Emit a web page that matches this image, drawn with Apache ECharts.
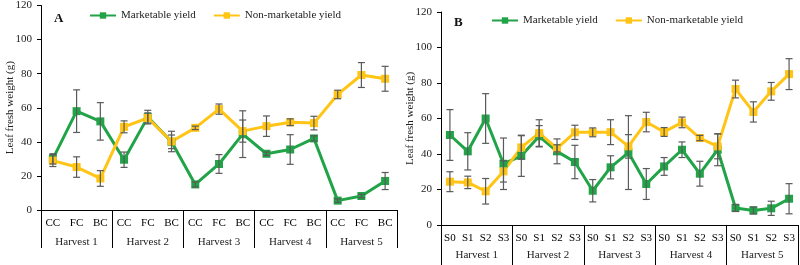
<!DOCTYPE html>
<html>
<head>
<meta charset="utf-8">
<script src="https://cdn.jsdelivr.net/npm/echarts@6/dist/echarts.min.js"></script>
<style>
  html, body { margin: 0; padding: 0; background: #fff; }
  #main { width: 800px; height: 265px; }
</style>
</head>
<body>
<div id="main"></div>
<script>
var harvests = ['Harvest 1', 'Harvest 2', 'Harvest 3', 'Harvest 4', 'Harvest 5'];
var subA = ['CC', 'FC', 'BC', 'CC', 'FC', 'BC', 'CC', 'FC', 'BC', 'CC', 'FC', 'BC', 'CC', 'FC', 'BC'];
var subB = ['S0', 'S1', 'S2', 'S3', 'S0', 'S1', 'S2', 'S3', 'S0', 'S1', 'S2', 'S3', 'S0', 'S1', 'S2', 'S3', 'S0', 'S1', 'S2', 'S3'];

// panel A
var mktA = [30, 58, 52, 29.5, 54.5, 40, 15, 27, 44.5, 33, 35.5, 42, 5.5, 8.2, 17];
var mktErrA = [3, 12.5, 11, 4.5, 4, 4, 1.5, 5.5, 13.7, 1, 8.7, 1.5, 1, 1, 5];
var nonA = [29, 25.2, 18.5, 48.8, 54, 40.2, 48.2, 59.2, 46.3, 49.2, 51.5, 51, 67.8, 79.2, 77];
var nonErrA = [3.5, 6, 4.6, 3.5, 3, 6, 1, 3, 6.5, 6, 2, 4, 2.5, 7.3, 7.3];

// panel B
var mktB = [50.7, 41.5, 60, 34.5, 39, 50, 41.5, 35.5, 19.3, 32.5, 40.8, 23.1, 33, 42.4, 28.9, 42.4, 9.6, 8.2, 9.4, 14.8];
var mktErrB = [14.3, 10.5, 14, 14.5, 11.6, 6, 7, 9.4, 6.3, 6.5, 20.8, 8.7, 5, 4.4, 7, 9, 2, 2, 4, 8.5];
var nonB = [24.4, 24, 19, 30.2, 43.7, 51.8, 43.2, 52.2, 52.2, 52.3, 44.3, 58, 52.4, 57.8, 49, 44.3, 76.6, 63.7, 75.3, 85];
var nonErrB = [5.6, 3.5, 7.2, 6, 6.6, 7.5, 2, 4, 2.5, 7, 6.6, 5.5, 2.5, 3, 1.5, 7, 5, 5.7, 5, 8.7];

var yTicks = [0, 20, 40, 60, 80, 100, 120];

var green = '#21a348';
var yellow = '#ffc414';
var font = 'Liberation Serif';

var myChart = echarts.init(document.getElementById('main'));

// [index, low, high]
function errData(vals, errs) {
  var out = [];
  for (var i = 0; i < vals.length; i++) {
    out.push([i, vals[i] - errs[i], vals[i] + errs[i]]);
  }
  return out;
}

function renderErr(params, api) {
  var lo = api.coord([api.value(0), api.value(1)]);
  var hi = api.coord([api.value(0), api.value(2)]);
  var style = { stroke: '#5a5a5a', lineWidth: 1.2 };
  return {
    type: 'group',
    children: [
      { type: 'line', shape: { x1: lo[0], y1: lo[1], x2: hi[0], y2: hi[1] }, style: style },
      { type: 'line', shape: { x1: lo[0] - 3.5, y1: lo[1], x2: lo[0] + 3.5, y2: lo[1] }, style: style },
      { type: 'line', shape: { x1: hi[0] - 3.5, y1: hi[1], x2: hi[0] + 3.5, y2: hi[1] }, style: style }
    ]
  };
}

function yAxisFor(idx) {
  return {
    gridIndex: idx,
    type: 'value',
    min: yTicks[0],
    max: yTicks[yTicks.length - 1],
    interval: 20,
    name: 'Leaf fresh weight (g)',
    nameLocation: 'middle',
    nameGap: 25,
    nameMoveOverlap: false,
    nameTextStyle: { fontFamily: font, fontSize: 11, color: '#222' },
    axisLine: { show: true, lineStyle: { color: '#000', width: 1 } },
    axisTick: { show: true, length: 4, lineStyle: { color: '#000' } },
    axisLabel: { fontFamily: font, fontSize: 11, color: '#222', margin: 9 },
    splitLine: { show: false }
  };
}

function subAxis(idx, data, margin) {
  return {
    gridIndex: idx,
    type: 'category',
    data: data,
    boundaryGap: true,
    axisLine: { show: true, lineStyle: { color: '#000', width: 1 } },
    axisTick: { show: false },
    axisLabel: { fontFamily: font, fontSize: 11, color: '#000', margin: margin, interval: 0 }
  };
}

function harvestAxis(idx, tickLen, margin) {
  return {
    gridIndex: idx,
    type: 'category',
    data: harvests,
    position: 'bottom',
    boundaryGap: true,
    axisLine: { show: false },
    axisTick: { show: true, length: tickLen, lineStyle: { color: '#000', width: 1 } },
    axisLabel: { fontFamily: font, fontSize: 11, color: '#222', margin: margin, interval: 0 }
  };
}

function lineSeries(name, color, data, axisIdx) {
  return {
    name: name,
    type: 'line',
    xAxisIndex: axisIdx,
    yAxisIndex: axisIdx / 2,
    data: data,
    symbol: 'rect',
    symbolSize: 8,
    lineStyle: { color: color, width: 3 },
    itemStyle: { color: color },
    z: 2
  };
}

function errSeries(data, axisIdx) {
  return {
    type: 'custom',
    xAxisIndex: axisIdx,
    yAxisIndex: axisIdx / 2,
    data: data,
    renderItem: renderErr,
    silent: true,
    z: 3
  };
}

var legendText = { fontFamily: font, fontSize: 11, color: '#222' };

option = {
  animation: false,
  title: [
    { text: 'A', left: 54, top: 12, padding: 0, textStyle: { fontFamily: font, fontSize: 13, fontWeight: 'bold', color: '#111' } },
    { text: 'B', left: 454, top: 16, padding: 0, textStyle: { fontFamily: font, fontSize: 13, fontWeight: 'bold', color: '#111' } }
  ],
  legend: [
    { data: ['Marketable yield', 'Non-marketable yield'], left: 89, top: 10, padding: 0, itemWidth: 26, itemHeight: 8, itemGap: 17, textStyle: legendText },
    { data: ['Marketable yield', 'Non-marketable yield'], left: 491, top: 15, padding: 0, itemWidth: 26, itemHeight: 8, itemGap: 17, textStyle: legendText }
  ],
  grid: [
    { left: 41, top: 5, width: 356, height: 205 },
    { left: 441, top: 12, width: 357, height: 213 }
  ],
  xAxis: [
    subAxis(0, subA, 8),
    harvestAxis(0, 38, 27),
    subAxis(1, subB, 8),
    harvestAxis(1, 40, 25)
  ],
  yAxis: [yAxisFor(0), yAxisFor(1)],
  series: [
    lineSeries('Marketable yield', green, mktA, 0),
    lineSeries('Non-marketable yield', yellow, nonA, 0),
    errSeries(errData(mktA, mktErrA), 0),
    errSeries(errData(nonA, nonErrA), 0),
    lineSeries('Marketable yield', green, mktB, 2),
    lineSeries('Non-marketable yield', yellow, nonB, 2),
    errSeries(errData(mktB, mktErrB), 2),
    errSeries(errData(nonB, nonErrB), 2)
  ]
};

myChart.setOption(option);
</script>
</body>
</html>
